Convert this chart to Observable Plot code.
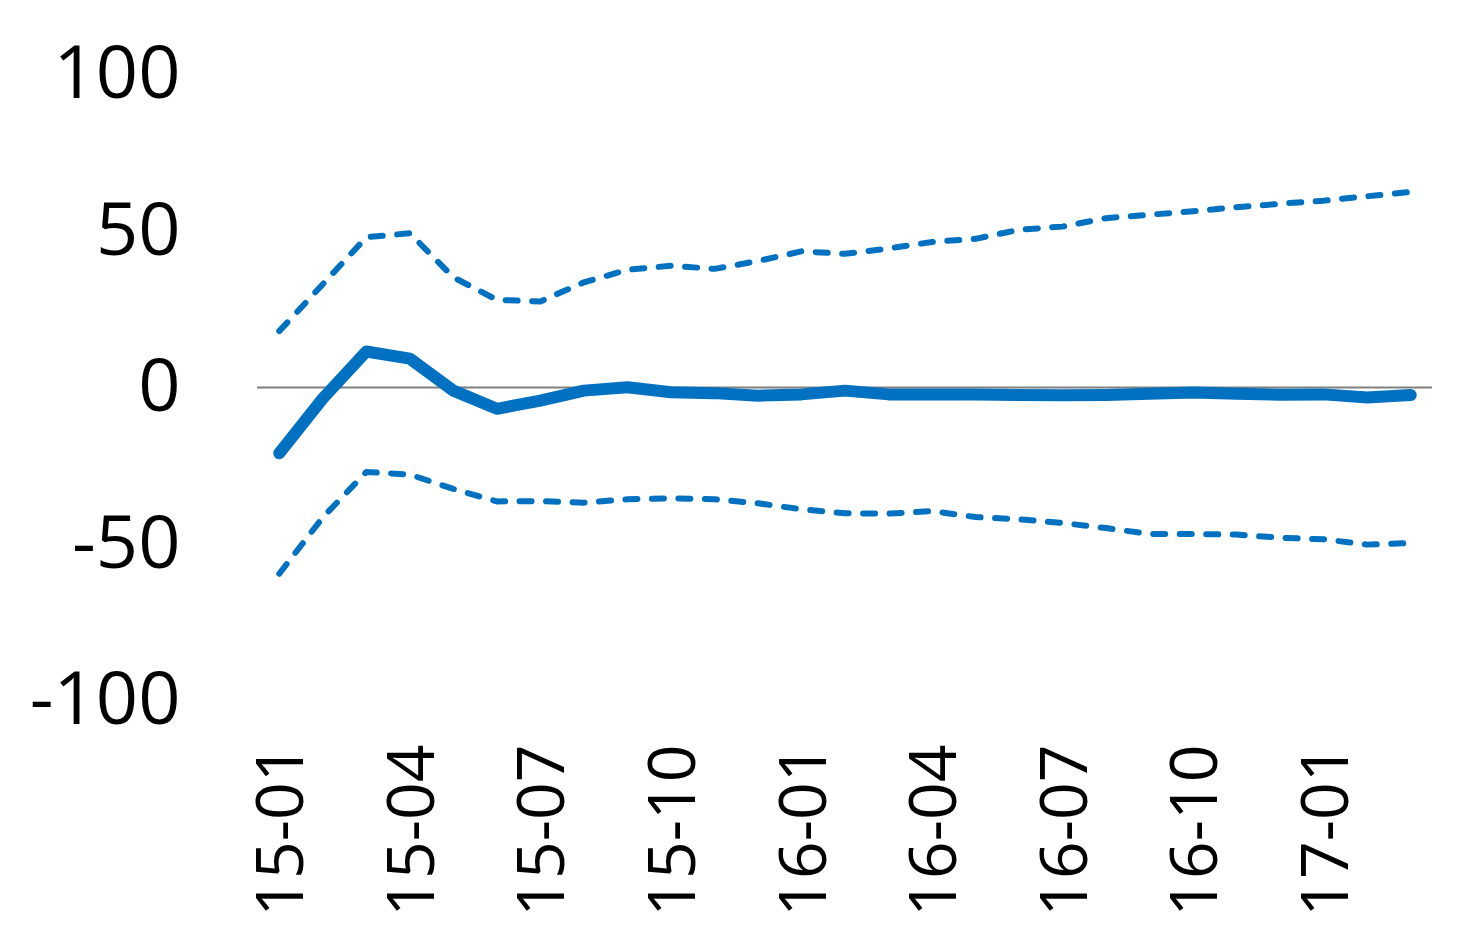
<!DOCTYPE html>
<html>
<head>
<meta charset="utf-8">
<script src="https://cdn.jsdelivr.net/npm/d3@7"></script>
<script src="https://cdn.jsdelivr.net/npm/@observablehq/plot@0.6"></script>
<style>
  html, body { margin: 0; padding: 0; background: #fff; }
  #chart svg { display: block; }
</style>
</head>
<body>
<div id="chart"></div>
<script>
const months = ["15-01","15-02","15-03","15-04","15-05","15-06","15-07","15-08","15-09",
  "15-10","15-11","15-12","16-01","16-02","16-03","16-04","16-05","16-06","16-07",
  "16-08","16-09","16-10","16-11","16-12","17-01","17-02","17-03"];
const central = [-21, -3.5, 11.5, 9.2, -1, -6.8, -4.2, -1, 0.1, -1.5, -1.8, -2.6, -2.2, -1,
  -2.2, -2.2, -2.2, -2.4, -2.5, -2.4, -2.0, -1.6, -2.0, -2.3, -2.2, -3.2, -2.4];
const upper = [18, 33, 48, 49.3, 35.2, 28, 27.5, 33.6, 37.6, 38.9, 37.9, 40.4, 43.5, 42.7,
  44.4, 46.5, 47.5, 50.4, 51.4, 54.1, 55.2, 56.3, 57.6, 58.7, 59.7, 61.1, 62.5];
const lower = [-59.5, -41.5, -27, -27.8, -32.4, -36.4, -36.3, -36.8, -35.7, -35.4, -35.7,
  -37, -38.9, -40.2, -40.3, -39.5, -41.4, -42.1, -43.3, -44.9, -46.8, -46.8, -47, -48,
  -48.5, -50.2, -49.7];
const yTicks = [-100, -50, 0, 50, 100];
const xTicks = months.filter((d, i) => i % 3 === 0);

const rows = (vals) => months.map((m, i) => ({month: m, value: vals[i]}));
const blue = "#0070C0";

const chart = Plot.plot({
  width: 1482,
  height: 948,
  marginTop: 74,
  marginBottom: 248,
  marginLeft: 257,
  marginRight: 50,
  style: {fontFamily: "'Open Sans', sans-serif", color: "#000", background: "#fff"},
  x: {type: "point", domain: months, padding: 0.5, round: false, label: null},
  y: {domain: [-100, 100], label: null},
  marks: [
    Plot.ruleY([0], {stroke: "#808080", strokeWidth: 2}),
    Plot.line(rows(upper), {x: "month", y: "value", stroke: blue, strokeWidth: 6,
      strokeDasharray: "12 14.5", strokeLinecap: "round", strokeLinejoin: "round"}),
    Plot.line(rows(lower), {x: "month", y: "value", stroke: blue, strokeWidth: 6,
      strokeDasharray: "12 14.5", strokeLinecap: "round", strokeLinejoin: "round"}),
    Plot.line(rows(central), {x: "month", y: "value", stroke: blue, strokeWidth: 12,
      strokeLinecap: "round", strokeLinejoin: "round"}),
    Plot.axisY({ticks: yTicks, tickSize: 0, tickPadding: 77, fontSize: 74, label: null,
      tickFormat: d => String(d)}),
    Plot.axisX({ticks: xTicks, tickSize: 0, tickPadding: 44, tickRotate: -90, fontSize: 66,
      dx: 3, label: null})
  ]
});
document.getElementById("chart").appendChild(chart);
</script>
</body>
</html>
